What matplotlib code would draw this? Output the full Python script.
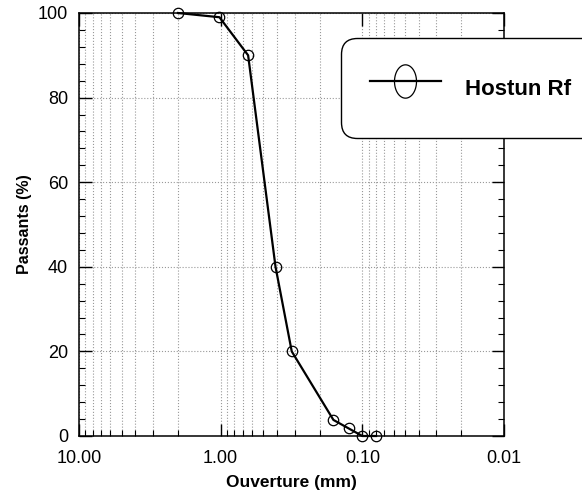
import numpy as np
import matplotlib.pyplot as plt
from matplotlib.path import Path
from matplotlib.lines import Line2D
from matplotlib.ticker import LogLocator, MultipleLocator, FixedLocator, FixedFormatter

plt.rcParams['font.family'] = ['Liberation Sans', 'DejaVu Sans']

# Data
ouverture = [2.0, 1.02, 0.64, 0.41, 0.315, 0.16, 0.125, 0.10, 0.08]
passants = [100, 99, 90, 40, 20, 3.8, 1.8, 0, 0]
serie_label = 'Hostun Rf'

x_major = [10, 1, 0.1, 0.01]
x_labels = ['10.00', '1.00', '0.10', '0.01']

fig = plt.figure(figsize=(5.82, 4.97), dpi=100)
ax = fig.add_axes([79 / 582, 61 / 497, 425 / 582, 423 / 497])

ax.plot(ouverture, passants, color='black', lw=1.6, marker='o', ms=7.5,
        mfc='none', mec='black', mew=0.9, clip_on=False, zorder=3)

ax.set_xscale('log')
ax.set_xlim(10, 0.01)
ax.set_ylim(0, 100)

ax.xaxis.set_major_locator(FixedLocator(x_major))
ax.xaxis.set_major_formatter(FixedFormatter(x_labels))
ax.xaxis.set_minor_locator(LogLocator(base=10, subs=np.arange(2, 10)))
ax.xaxis.set_minor_formatter(plt.NullFormatter())
ax.yaxis.set_major_locator(MultipleLocator(20))
ax.yaxis.set_minor_locator(MultipleLocator(4))

ax.grid(True, which='both', axis='x', color='#999999', ls=':', lw=0.8)
ax.grid(True, which='major', axis='y', color='#999999', ls=':', lw=0.8)

ax.tick_params(which='major', direction='in', length=9, width=1,
               labelsize=13, top=True, right=True)
ax.tick_params(axis='y', which='major', pad=8)
ax.tick_params(axis='x', which='major', pad=10)
ax.tick_params(which='minor', direction='in', length=4.5, width=0.8,
               top=True, right=True)
ax.tick_params(axis='x', which='minor', top=False)
for s in ax.spines.values():
    s.set_linewidth(1.1)

ax.set_xlabel('Ouverture (mm)', fontsize=12.5, fontweight='bold', labelpad=6)
ax.set_ylabel('Passants (%)', fontsize=11.5, fontweight='bold', labelpad=4)

# legend with an elongated circle marker
t = np.linspace(0, 2 * np.pi, 60)
ellipse = Path(np.column_stack([0.66 * np.cos(t), np.sin(t)]))
handle = Line2D([], [], color='black', lw=1.6, marker=ellipse, ms=24,
                mfc='none', mec='black', mew=0.9)
leg = fig.legend([handle], [serie_label], loc='center left',
                 bbox_to_anchor=(341 / 582, 1 - 88 / 497), borderaxespad=0,
                 prop={'weight': 'bold', 'size': 16},
                 handlelength=3.2, handleheight=2.5, handletextpad=1.1,
                 borderpad=1.3, framealpha=1, edgecolor='black', fancybox=True)
leg.get_frame().set_boxstyle('round,pad=0,rounding_size=0.7')
leg.get_frame().set_linewidth(1.0)

fig.savefig('out.png', dpi=100)
